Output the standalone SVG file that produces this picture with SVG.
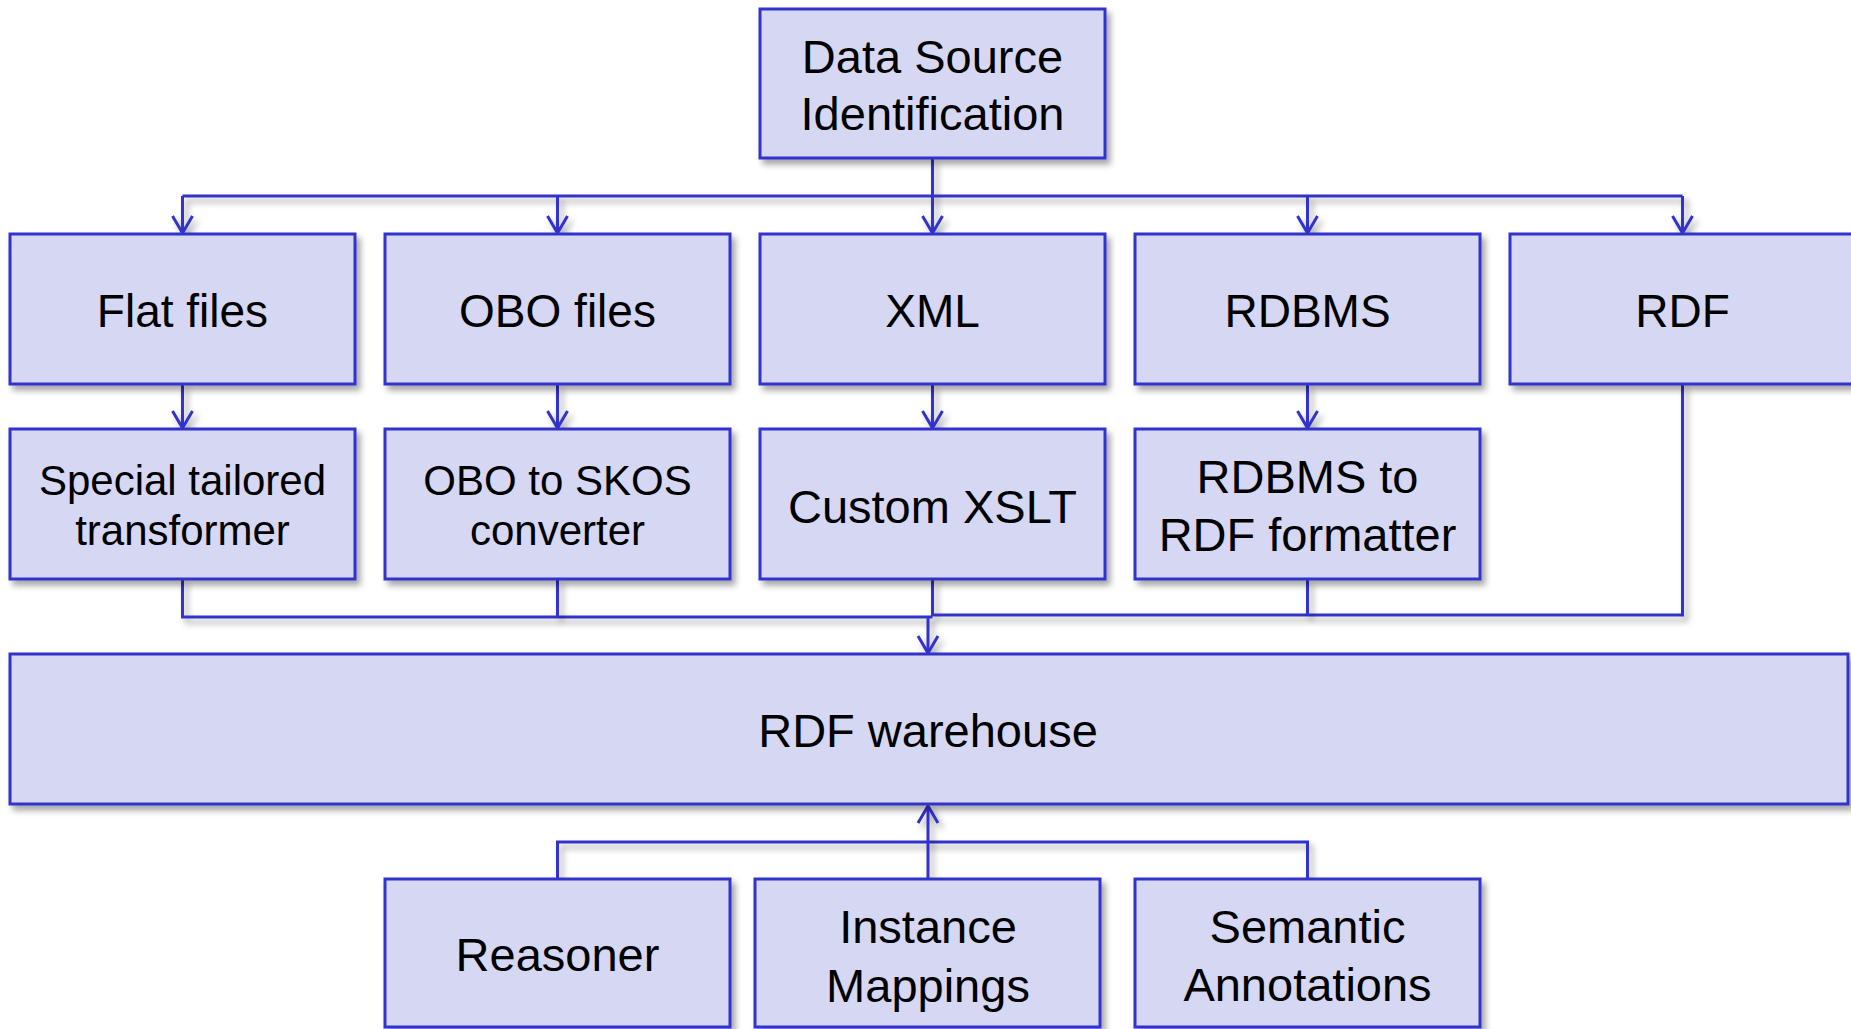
<svg xmlns="http://www.w3.org/2000/svg" width="1851" height="1029" viewBox="0 0 1851 1029">
<style>
.box{fill:#d6d7f3;stroke:#3232cc;stroke-width:3;filter:url(#sh)}
.lbl{font-family:"Liberation Sans",Arial,sans-serif;fill:#000;text-anchor:middle}
.con{fill:none;stroke:#3232cc;stroke-width:3;filter:url(#sh)}
.arr{marker-end:url(#ah)}
</style>
<defs>
<filter id="sh" filterUnits="userSpaceOnUse" x="0" y="0" width="1851" height="1029">
<feDropShadow dx="4" dy="5" stdDeviation="3" flood-color="#000" flood-opacity="0.35"/>
</filter>
<marker id="ah" markerUnits="userSpaceOnUse" viewBox="-20 -13 23 26" markerWidth="23" markerHeight="26" refX="0" refY="0" orient="auto">
<path d="M-17,-10 L0,0 L-17,10" fill="none" stroke="#3232cc" stroke-width="3"/>
</marker>
</defs>
<rect width="1851" height="1029" fill="#fff"/>
<g id="connectors">
<path class="con" d="M932.5,158 V196"/>
<path class="con" d="M182.5,196 H1682.5"/>
<path class="con arr" d="M182.5,196 V233"/>
<path class="con arr" d="M557.5,196 V233"/>
<path class="con arr" d="M932.5,196 V233"/>
<path class="con arr" d="M1307.5,196 V233"/>
<path class="con arr" d="M1682.5,196 V233"/>
<path class="con arr" d="M182.5,384 V428"/>
<path class="con arr" d="M557.5,384 V428"/>
<path class="con arr" d="M932.5,384 V428"/>
<path class="con arr" d="M1307.5,384 V428"/>
<path class="con" d="M182.5,579 V617 H932.5"/>
<path class="con" d="M557.5,579 V617"/>
<path class="con" d="M932.5,579 V615 H1682.5 V384"/>
<path class="con" d="M1307.5,579 V615"/>
<path class="con arr" d="M928,617 V653"/>
<path class="con" d="M557.5,879 V842 H1307.5 V879"/>
<path class="con arr" d="M928,879 V806"/>
</g>
<g id="n-datasource"><rect class="box" x="760" y="9" width="345" height="149"/>
<text class="lbl" font-size="47" x="932.5" y="73">Data Source</text><text class="lbl" font-size="47" x="932.5" y="130">Identification</text></g>
<g id="n-flat"><rect class="box" x="10" y="234" width="345" height="150"/><text class="lbl" font-size="46" x="182.5" y="327">Flat files</text></g>
<g id="n-obo"><rect class="box" x="385" y="234" width="345" height="150"/><text class="lbl" font-size="46" x="557.5" y="327">OBO files</text></g>
<g id="n-xml"><rect class="box" x="760" y="234" width="345" height="150"/><text class="lbl" font-size="46" x="932.5" y="327">XML</text></g>
<g id="n-rdbms"><rect class="box" x="1135" y="234" width="345" height="150"/><text class="lbl" font-size="46" x="1307.5" y="327">RDBMS</text></g>
<g id="n-rdf"><rect class="box" x="1510" y="234" width="360" height="150"/><text class="lbl" font-size="46" x="1682.5" y="327">RDF</text></g>
<g id="n-special"><rect class="box" x="10" y="429" width="345" height="150"/>
<text class="lbl" font-size="42" x="182.5" y="495">Special tailored</text><text class="lbl" font-size="42" x="182.5" y="545">transformer</text></g>
<g id="n-obo2skos"><rect class="box" x="385" y="429" width="345" height="150"/>
<text class="lbl" font-size="42" x="557.5" y="495">OBO to SKOS</text><text class="lbl" font-size="42" x="557.5" y="545">converter</text></g>
<g id="n-xslt"><rect class="box" x="760" y="429" width="345" height="150"/><text class="lbl" font-size="47" x="932.5" y="523">Custom XSLT</text></g>
<g id="n-rdbms2rdf"><rect class="box" x="1135" y="429" width="345" height="150"/>
<text class="lbl" font-size="47" x="1307.5" y="493">RDBMS to</text><text class="lbl" font-size="47" x="1307.5" y="551">RDF formatter</text></g>
<g id="n-warehouse"><rect class="box" x="10" y="654" width="1838" height="150"/><text class="lbl" font-size="47" x="928" y="747">RDF warehouse</text></g>
<g id="n-reasoner"><rect class="box" x="385" y="879" width="345" height="148"/><text class="lbl" font-size="47" x="557.5" y="971">Reasoner</text></g>
<g id="n-instance"><rect class="box" x="755" y="879" width="345" height="148"/>
<text class="lbl" font-size="47" x="928" y="943">Instance</text><text class="lbl" font-size="47" x="928" y="1002">Mappings</text></g>
<g id="n-semantic"><rect class="box" x="1135" y="879" width="345" height="148"/>
<text class="lbl" font-size="47" x="1307.5" y="943">Semantic</text><text class="lbl" font-size="47" x="1307.5" y="1001">Annotations</text></g>
</svg>
